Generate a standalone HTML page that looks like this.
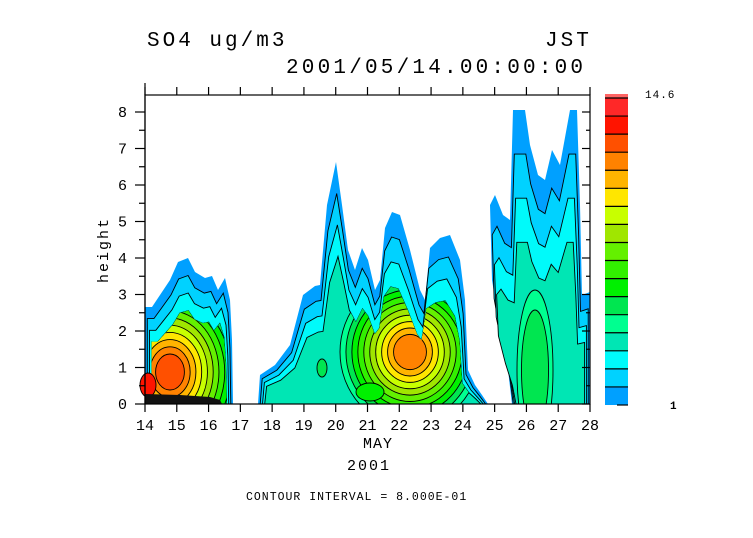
<!DOCTYPE html>
<html><head><meta charset="utf-8"><style>
body{margin:0;background:#fff;width:753px;height:533px;overflow:hidden}
svg text{font-family:"Liberation Mono",monospace;fill:#000}
</style></head><body>
<svg id="s" width="753" height="533" xmlns="http://www.w3.org/2000/svg">
<defs id="defs"></defs>
<g id="fills"></g>
<g id="axes" stroke="#000" stroke-width="1.2" fill="none"></g>
<text x="147" y="46" font-size="21" letter-spacing="3">SO4 ug/m3</text>
<text x="545" y="46" font-size="21" letter-spacing="3">JST</text>
<text x="286" y="73" font-size="21" letter-spacing="3.2">2001/05/14.00:00:00</text>
<text x="108" y="250" font-size="15" letter-spacing="2" transform="rotate(-90 108 250)" text-anchor="middle">height</text>
<text x="363" y="448" font-size="15" letter-spacing="1">MAY</text>
<text x="347" y="470" font-size="15" letter-spacing="2">2001</text>
<text x="246" y="500" font-size="11.5" letter-spacing="1">CONTOUR INTERVAL = 8.000E-01</text>
<text x="645" y="98" font-size="11" letter-spacing="1">14.6</text>
<text x="670" y="409" font-size="11" font-weight="bold">1</text>
<g id="lab"></g>
</svg>
<script>
const NS="http://www.w3.org/2000/svg";
const cols=['#00a0ff','#00d2ff','#00fafa','#00e6b4','#00ff90','#00e650','#00f000','#32f000','#64f000','#a0e600','#c8ff00','#ffe600','#ffb400','#ff8200','#ff5000','#ff1400','#ff2828','#ff6464'];
const F=document.getElementById('fills'),A=document.getElementById('axes'),L=document.getElementById('lab'),D=document.getElementById('defs');
function el(t,a,p){const e=document.createElementNS(NS,t);for(const k in a)e.setAttribute(k,a[k]);p.appendChild(e);return e}
let cid=0;
function blob(pts,cx,m,dx,dy,hx,hy,n,rx0,ry0,fmin){
 let last;
 for(let k=0;k<m;k++){
  const sx=1-dx*k, sy=1-dy*k;
  const p=pts.map(q=>[cx+(q[0]-cx)*sx,404+(q[1]-404)*sy]).map(q=>[Math.max(145,Math.min(q[0],590)),Math.min(q[1],404)]);
  last=p.map(q=>q[0].toFixed(1)+','+q[1].toFixed(1)).join(' ');
  el('polygon',{points:last,fill:cols[k],stroke:k>0?'#000':'none','stroke-width':0.9},F);
 }
 const id='c'+(cid++);
 const cp=el('clipPath',{id:id},D);el('polygon',{points:last},cp);
 const g=el('g',{'clip-path':'url(#'+id+')'},F);
 for(let k=m;k<n;k++){
  const f=1-(k-m)/(n-m)*(1-fmin);
  el('ellipse',{cx:hx,cy:hy,rx:rx0*f,ry:ry0*f,fill:cols[k],stroke:'#000','stroke-width':0.9},g);
 }
 return g;
}
blob([[145,307],[152,307],[160,295],[170,280],[178,262],[188,258],[195,272],[205,278],[212,276],[218,290],[225,278],[230,300],[232,340],[233,404],[145,404]],190,4,0.05,0.12,170,372,15,72,90,0.12);
el('ellipse',{cx:148,cy:385,rx:8,ry:12,fill:cols[15],stroke:'#000','stroke-width':0.9},F);
el('polygon',{points:'145,394 180,395 210,397 220,400 222,404 145,404',fill:'#111'},F);
blob([[258,404],[260,375],[275,365],[290,345],[303,295],[315,286],[320,285],[327,205],[336,162],[342,205],[348,250],[355,270],[362,248],[368,260],[375,290],[380,280],[385,228],[392,212],[400,215],[410,250],[420,290],[425,300],[430,248],[440,238],[450,235],[460,260],[465,300],[468,370],[475,385],[482,395],[488,404]],370,4,0.02,0.13,410,352,14,70,75,0.15);
el('ellipse',{cx:370,cy:392,rx:14,ry:9,fill:cols[6],stroke:'#000','stroke-width':0.9},F);
el('ellipse',{cx:322,cy:368,rx:5,ry:9,fill:cols[5],stroke:'#000','stroke-width':0.9},F);
blob([[490,205],[495,195],[503,215],[510,220],[513,110],[525,110],[530,145],[538,175],[545,180],[552,150],[560,165],[570,110],[577,110],[580,205],[582,295],[590,292],[590,404],[512,404],[508,370],[500,330],[492,280]],545,4,0.04,0.15,535,370,6,18,80,0.5);
const X0=145,DX=445/14,Y0=404,DY=36.5;
el('rect',{x:145,y:95,width:445,height:309},A);
el('line',{x1:145,y1:83,x2:145,y2:404},A);
for(let d=0;d<=14;d++){const x=X0+d*DX;
 el('line',{x1:x,y1:404,x2:x,y2:412},A);
 el('line',{x1:x,y1:95,x2:x,y2:87},A);
 const t=el('text',{x:x,y:430,'font-size':15,'text-anchor':'middle'},L);t.textContent=14+d;}
for(let h=0;h<=16;h++){const y=Y0-h*DY/2;
 el('line',{x1:145,y1:y,x2:h%2?139:135,y2:y},A);
 el('line',{x1:590,y1:y,x2:h%2?586:582,y2:y},A);
 if(h%2==0){const t=el('text',{x:127,y:y+5,'font-size':15,'text-anchor':'end'},L);t.textContent=h/2;}}
const cb0=405,cb1=94,bh=(cb0-cb1-4)/17;
for(let k=0;k<17;k++){const y=cb0-(k+1)*bh;
 el('rect',{x:605,y:y,width:23,height:bh,fill:cols[k]},F);
 el('line',{x1:605,y1:y,x2:628,y2:y,stroke:'#000'},A);}
el('rect',{x:605,y:cb1,width:23,height:4,fill:cols[17]},F);
el('line',{x1:617,y1:cb0,x2:628,y2:cb0,stroke:'#000'},A);
</script>
</body></html>
